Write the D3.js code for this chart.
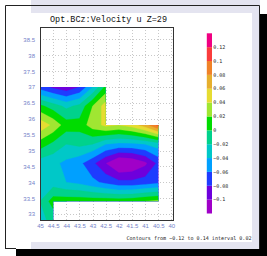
<!DOCTYPE html>
<head>
  <meta charset="utf-8">
  <script src="https://d3js.org/d3.v7.min.js"></script>
  <style>
  body,html {margin:0; background:#fff; font-family:"Liberation Sans", sans-serif;}
  </style>
</head>
<body>
<script>

// grid nodes (lon decreasing to the right, lat decreasing downward)
const lons = [45, 44.5, 44, 43.5, 43, 42.5, 42, 41.5, 41, 40.5];
const lats = [37, 36.4, 35.8, 35.2, 34.6, 34.0, 33.4, 32.8];

// u velocity at the nodes, null = no data (land)
const uGrid = [
  [-0.07, -0.085, -0.095, -0.08, -0.04, 0.005, null, null, null, null],
  [0.005, -0.01, -0.025, -0.015, 0.02, 0.05, null, null, null, null],
  [0.055, 0.035, 0.01, 0.008, 0.03, 0.045, 0.04, 0.05, 0.07, 0.105],
  [0.01, -0.005, -0.02, -0.015, -0.02, -0.04, -0.045, -0.045, -0.04, -0.03],
  [-0.03, -0.035, -0.045, -0.055, -0.075, -0.1, -0.125, -0.12, -0.105, -0.075],
  [-0.025, -0.03, -0.04, -0.045, -0.055, -0.065, -0.075, -0.075, -0.07, -0.065],
  [-0.02, 0.01, 0.012, 0.012, 0.012, 0.012, 0.012, 0.014, 0.02, 0.025],
  [-0.025, -0.015, null, null, null, null, null, null, null, null]
];

// outline of the data area
const maskLon = [45, 42.5, 42.5, 40.5, 40.5, 44.5, 44.5, 45];
const maskLat = [37, 37, 35.8, 35.8, 33.4, 33.4, 32.8, 32.8];

const levels = [-0.1, -0.08, -0.06, -0.04, -0.02, 0, 0.02, 0.04, 0.06, 0.08, 0.1, 0.12];
const colors = ["#a000c8", "#6e00dc", "#1e3cff", "#00a0ff", "#00c8c8", "#00d28c", "#00dc00",
                "#a0e632", "#e6dc32", "#e6af2d", "#f08228", "#fa3c3c", "#f00082"];

const xTicks = [45, 44.5, 44, 43.5, 43, 42.5, 42, 41.5, 41, 40.5, 40];
const yTicks = [33, 33.5, 34, 34.5, 35, 35.5, 36, 36.5, 37, 37.5, 38, 38.5];

const title = "Opt.BCz:Velocity u Z=29";
const footer = "Contours from \u22120.12 to 0.14 interval 0.02";

const W = 267, H = 256;
const svg = d3.select("body").append("svg").attr("width", W).attr("height", H);

// frame
svg.append("rect").attr("x", 16).attr("y", 14).attr("width", W - 16).attr("height", H - 14).attr("fill", "#000");
svg.append("rect").attr("x", 6).attr("y", 5).attr("width", 254).attr("height", 244).attr("fill", "#fff");
svg.append("rect").attr("x", 31).attr("y", 0).attr("width", 229).attr("height", 13).attr("fill", "#e4e4f0");
svg.append("rect").attr("x", 252).attr("y", 0).attr("width", 8).attr("height", 249).attr("fill", "#e4e4f0");
svg.append("rect").attr("x", 31).attr("y", 242).attr("width", 229).attr("height", 7).attr("fill", "#e4e4f0");
svg.append("path").attr("d", "M5.5,249V5.5H259.5V249M5.5,248.5H16")
  .attr("fill", "none").attr("stroke", "#222").attr("stroke-width", 1);

const x = d3.scaleLinear().domain([45, 39.9]).range([40, 174]);
const y = d3.scaleLinear().domain([32.78, 38.89]).range([221, 27]);

// grid (under the shading)
const grid = svg.append("g").attr("stroke", "#c8c8c8").attr("stroke-width", 1).attr("stroke-dasharray", "1,2");
grid.selectAll("line.gx").data(xTicks).enter().append("line")
  .attr("x1", d => Math.round(x(d)) + 0.5).attr("x2", d => Math.round(x(d)) + 0.5)
  .attr("y1", 27).attr("y2", 221);
grid.selectAll("line.gy").data(yTicks).enter().append("line")
  .attr("y1", d => Math.round(y(d)) + 0.5).attr("y2", d => Math.round(y(d)) + 0.5)
  .attr("x1", 40).attr("x2", 174);

// clip to the data area
svg.append("clipPath").attr("id", "mask")
  .append("path")
  .attr("d", d3.line()(maskLon.map((d, i) => [x(d), y(maskLat[i])])) + "Z");

const n = lons.length, m = lats.length;
const dLon = lons[1] - lons[0], dLat = lats[1] - lats[0];
const proj = d3.geoTransform({
  point: function(px, py) {
    this.stream.point(x(lons[0] + (px - 0.5) * dLon), y(lats[0] + (py - 0.5) * dLat));
  }
});
const path = d3.geoPath(proj);

const shade = svg.append("g").attr("clip-path", "url(#mask)");
shade.append("rect").attr("x", 40).attr("y", 27).attr("width", 134).attr("height", 194).attr("fill", colors[0]);
const bands = d3.contours().size([n, m]).thresholds(levels)(uGrid.flat());
shade.selectAll("path.band").data(bands).enter().append("path")
  .attr("class", "band")
  .attr("d", path)
  .attr("fill", (d, i) => colors[i + 1])
  .attr("stroke", (d, i) => colors[i + 1])
  .attr("stroke-width", 0.3);

svg.append("rect").attr("x", 40.5).attr("y", 27.5).attr("width", 133).attr("height", 193)
  .attr("fill", "none").attr("stroke", "#333").attr("stroke-width", 1);

// axes labels
const fmt = d => String(d).replace("-", "\u2212");
const xAxis = svg.append("g").attr("transform", "translate(0,221)")
  .call(d3.axisBottom(x).tickValues(xTicks).tickSize(0).tickPadding(3).tickFormat(fmt));
const yAxis = svg.append("g").attr("transform", "translate(40,0)")
  .call(d3.axisLeft(y).tickValues(yTicks).tickSize(0).tickPadding(5).tickFormat(fmt));
[xAxis, yAxis].forEach(a => {
  a.select(".domain").remove();
  a.selectAll("text").attr("fill", "#7482c8").attr("font-size", "6px")
    .attr("font-family", "'Liberation Sans', sans-serif");
});

svg.append("text").attr("x", 108.5).attr("y", 22).attr("text-anchor", "middle")
  .attr("font-family", "'Liberation Mono', monospace").attr("font-size", "9px")
  .attr("textLength", 117).attr("lengthAdjust", "spacingAndGlyphs")
  .attr("fill", "#111").text(title);

// colour key
const cb = d3.scaleLinear().domain([0, colors.length]).range([213.5, 33.3]);
svg.selectAll("rect.key").data(colors).enter().append("rect")
  .attr("class", "key")
  .attr("x", 206.8).attr("width", 5.2)
  .attr("y", (d, i) => cb(i + 1)).attr("height", (d, i) => cb(i) - cb(i + 1))
  .attr("fill", d => d);
svg.selectAll("text.key").data(levels).enter().append("text")
  .attr("class", "key")
  .attr("x", 213.3).attr("y", (d, i) => cb(i + 1)).attr("dy", "0.35em")
  .attr("font-family", "'DejaVu Sans Mono', monospace").attr("font-size", "5px")
  .attr("fill", "#222").text(fmt);

svg.append("text").attr("x", 251.5).attr("y", 240).attr("text-anchor", "end")
  .attr("font-family", "'DejaVu Sans Mono', monospace").attr("font-size", "5.2px")
  .attr("textLength", 125).attr("lengthAdjust", "spacingAndGlyphs")
  .attr("fill", "#222").text(footer);

</script>
</body>
